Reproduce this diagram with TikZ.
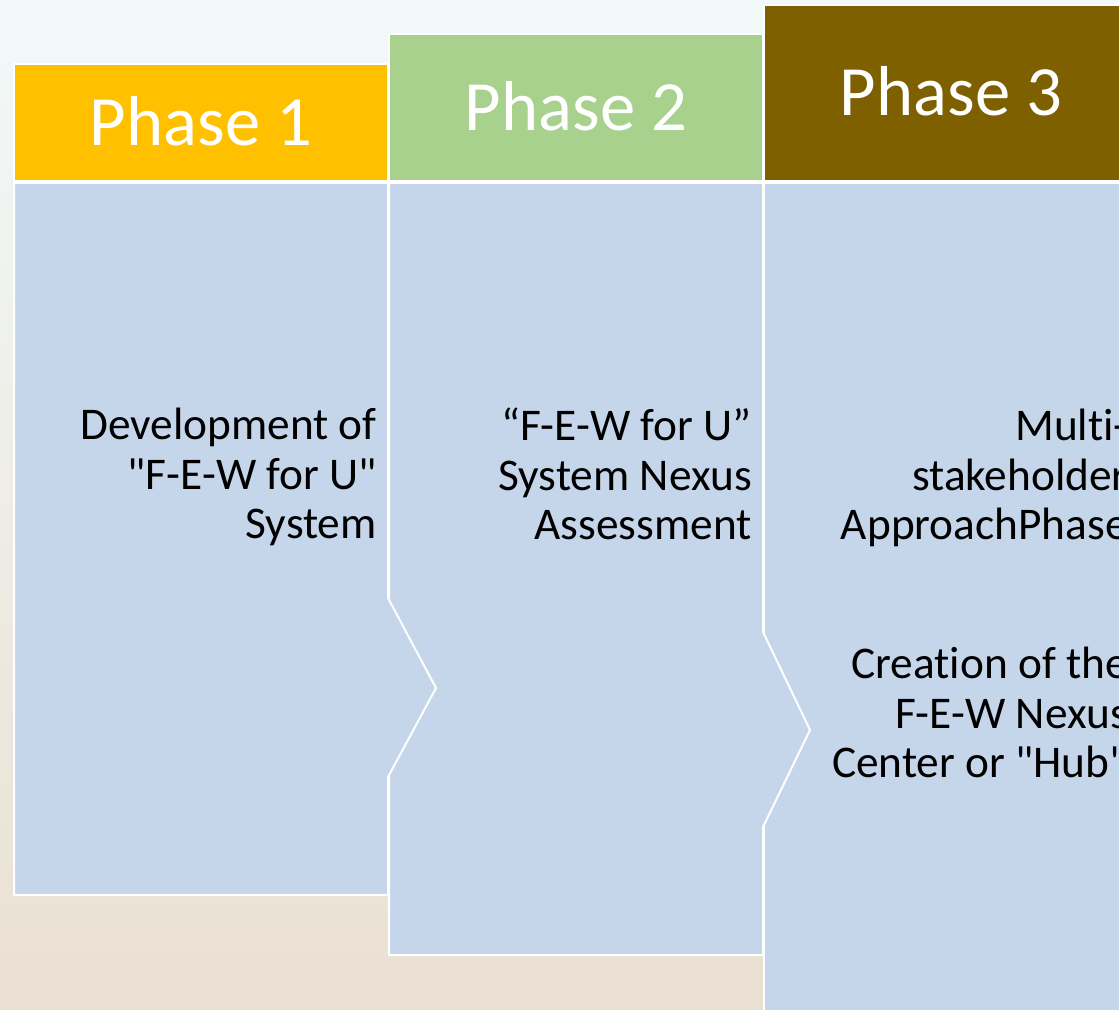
\documentclass[tikz,border=0pt]{standalone}
\usepackage{fontspec}
\setmainfont{Carlito}[Ligatures={TeX,NoCommon}]
\usepackage{tikz}
\usetikzlibrary{positioning}
\definecolor{phaseone}{HTML}{FFC000}
\definecolor{phasetwo}{HTML}{A9D18E}
\definecolor{phasethree}{HTML}{7F6000}
\definecolor{bodyblue}{HTML}{C5D5EA}
\definecolor{skytop}{RGB}{242,249,249}
\definecolor{skymid}{RGB}{244,247,241}
\definecolor{sand}{RGB}{234,224,210}
\tikzset{phasehead/.style={
    % The shape:
    rectangle,
    minimum width=280.5pt,
    % The border:
    draw=white, line width=1.5pt,
    % Font
    text=white,
    font=\fontsize{53}{60}\selectfont
    },
    phasebody/.style={
    fill=bodyblue,
    draw=white, line width=1.5pt,
    line join=miter,
    },
    phasetext/.style={
    anchor=north east,
    inner sep=0pt,
    align=right,
    text=black,
    font=\fontsize{34}{37}\selectfont
    },
}

\begin{document}
\begin{tikzpicture}[x=0.75pt, y=-0.75pt]
    \useasboundingbox (0,0) rectangle (1119,1009);
    \clip (0,0) rectangle (1119,1009);
    \fill[top color=skytop, middle color=skymid, bottom color=sand] (0,0) rectangle (1119,1009);

    % the bodies, last one first so the points lie on top
    \draw[phasebody] (764,183) -- (1138,183) -- (1138,1040) -- (764,1040) -- cycle;
    \draw[phasebody] (389,183) -- (763,183) -- (763,632) -- (810,730) -- (763,827)
        -- (763,955) -- (389,955) -- cycle;
    \draw[phasebody] (14,183) -- (388,183) -- (388,598) -- (436,688) -- (388,777)
        -- (388,895) -- (14,895) -- cycle;

    \node (head1) [phasehead,fill=phaseone,minimum height=87.75pt,text depth=3pt]   at (201,122.5) {Phase 1};
    \node (head2) [phasehead,fill=phasetwo,minimum height=110.25pt,text depth=3pt]  at (576,107.5) {Phase 2};
    \node (head3) [phasehead,fill=phasethree,minimum height=132pt,text depth=3pt]   at (951,93)    {Phase 3};

    \node (text1)  [phasetext] at (377,408) {Development of\\\textquotedbl F-E-W for U\textquotedbl\\System};
    \node (text2)  [phasetext] at (752,408) {“F-E-W for U”\\System Nexus\\Assessment};
    \node (text3a) [phasetext] at (1128,409) {Multi-\\stakeholder\\ApproachPhase};
    \node (text3b) [phasetext] at (1128,647) {Creation of the\\F-E-W Nexus\\Center or \textquotedbl Hub\textquotedbl};
  \end{tikzpicture}
\end{document}
